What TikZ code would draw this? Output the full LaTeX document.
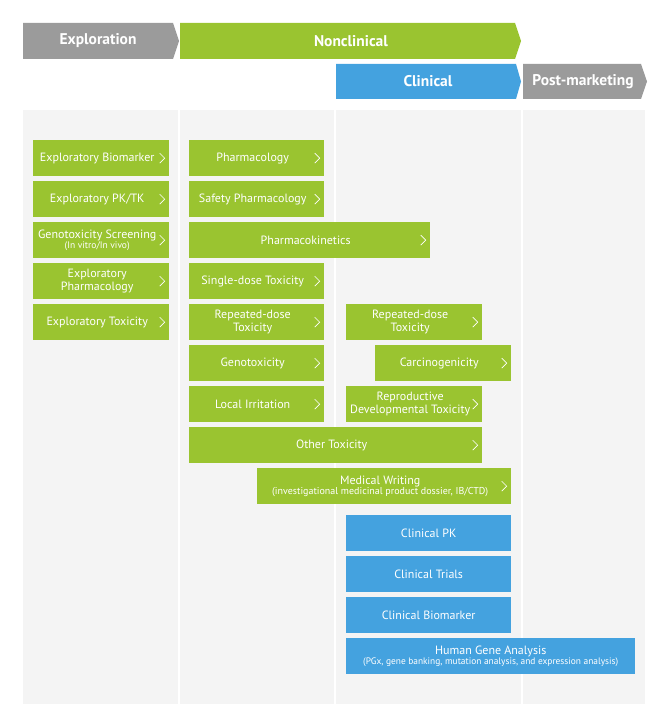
\documentclass[tikz,border=0pt]{standalone}
\usepackage{fontspec}
\setmainfont{PT Sans}
\definecolor{ncgreen}{HTML}{9AC430}
\definecolor{clblue}{HTML}{44A2DF}
\definecolor{phgray}{HTML}{9B9B9B}
\definecolor{panelbg}{HTML}{F4F4F4}
\tikzset{
  chev/.style={path picture={
    \draw[white, line width=0.7pt]
      ([xshift=-9.5pt, yshift=5pt]path picture bounding box.east)
      -- ([xshift=-4.5pt]path picture bounding box.east)
      -- ([xshift=-9.5pt, yshift=-5pt]path picture bounding box.east);}},
  gbox/.style={fill=ncgreen, anchor=north west, minimum height=36pt, inner sep=0pt, chev},
  bbox/.style={fill=clblue, anchor=north west, minimum height=36pt, inner sep=0pt},
  lbl/.style={white, align=center, inner sep=0pt, font=\fontsize{12}{12.5}\selectfont},
  head/.style={white, inner sep=0pt, font=\bfseries\fontsize{15.5}{17}\selectfont}
}
\begin{document}
\begin{tikzpicture}[x=1pt, y=-1pt]
    \useasboundingbox (0, 0) rectangle (670, 727);

    % phase arrows
    \fill[phgray] (23, 23) -- (173, 23) -- (179, 41) -- (173, 59) -- (23, 59) -- cycle;
    \fill[ncgreen] (180, 23) -- (515, 23) -- (521, 41) -- (515, 59) -- (180, 59) -- cycle;
    \fill[clblue] (336, 64) -- (516, 64) -- (521, 81.5) -- (516, 99) -- (336, 99) -- cycle;
    \fill[phgray] (523, 64) -- (641, 64) -- (647, 81.5) -- (641, 99) -- (523, 99) -- cycle;
    \node[head] (hexp) at (98, 41) {Exploration};
    \node[head] (hnon) at (351, 41) {Nonclinical};
    \node[head] (hcli) at (428, 81.5) {Clinical};
    \node[head] (hpost) at (583, 81.5) {Post-marketing};

    % columns
    \fill[panelbg] (23, 110) rectangle (178, 704);
    \fill[panelbg] (180, 110) rectangle (334, 704);
    \fill[panelbg] (336, 110) rectangle (521, 704);
    \fill[panelbg] (523, 110) rectangle (645, 704);

    % exploration
    \node[gbox, minimum width=136pt] (bio) at (33, 140) {};
    \node[gbox, minimum width=136pt] (pktk) at (33, 181) {};
    \node[gbox, minimum width=136pt] (gscr) at (33, 222) {};
    \node[gbox, minimum width=136pt] (ephar) at (33, 263) {};
    \node[gbox, minimum width=136pt] (etox) at (33, 304) {};
    \node[lbl] (bio-t) at ([xshift=-4pt]bio.center) {Exploratory Biomarker};
    \node[lbl] (pktk-t) at ([xshift=-4pt]pktk.center) {Exploratory PK/TK};
    \node[lbl] (gscr-t) at ([xshift=-4pt]gscr.center) {Genotoxicity Screening\\[-2pt]{\fontsize{9.5}{10}\selectfont(In vitro/In vivo)}};
    \node[lbl] (ephar-t) at ([xshift=-4pt]ephar.center) {Exploratory\\Pharmacology};
    \node[lbl] (etox-t) at ([xshift=-4pt]etox.center) {Exploratory Toxicity};

    % nonclinical
    \node[gbox, minimum width=135pt] (phar) at (189, 140) {};
    \node[gbox, minimum width=135pt] (sphar) at (189, 181) {};
    \node[gbox, minimum width=241pt] (pk) at (189, 222) {};
    \node[gbox, minimum width=135pt] (sdt) at (189, 263) {};
    \node[gbox, minimum width=135pt] (rdt) at (189, 304) {};
    \node[gbox, minimum width=135pt] (gtox) at (189, 345) {};
    \node[gbox, minimum width=135pt] (lirr) at (189, 386) {};
    \node[gbox, minimum width=293pt] (otox) at (189, 427) {};
    \node[gbox, minimum width=254pt] (mw) at (257, 468) {};
    \node[gbox, minimum width=136pt] (rdt2) at (346, 304) {};
    \node[gbox, minimum width=136pt] (carc) at (375, 345) {};
    \node[gbox, minimum width=136pt] (repro) at (346, 386) {};
    \node[lbl] (phar-t) at ([xshift=-4pt]phar.center) {Pharmacology};
    \node[lbl] (sphar-t) at ([xshift=-4pt]sphar.center) {Safety Pharmacology};
    \node[lbl] (pk-t) at ([xshift=-4pt]pk.center) {Pharmacokinetics};
    \node[lbl] (sdt-t) at ([xshift=-4pt]sdt.center) {Single-dose Toxicity};
    \node[lbl] (rdt-t) at ([xshift=-4pt]rdt.center) {Repeated-dose\\Toxicity};
    \node[lbl] (gtox-t) at ([xshift=-4pt]gtox.center) {Genotoxicity};
    \node[lbl] (lirr-t) at ([xshift=-4pt]lirr.center) {Local Irritation};
    \node[lbl] (otox-t) at ([xshift=-4pt]otox.center) {Other Toxicity};
    \node[lbl] (mw-t) at ([xshift=-4pt]mw.center) {Medical Writing\\[-2pt]{\fontsize{10}{10.5}\selectfont(investigational medicinal product dossier, IB/CTD)}};
    \node[lbl] (rdt2-t) at ([xshift=-4pt]rdt2.center) {Repeated-dose\\Toxicity};
    \node[lbl] (carc-t) at ([xshift=-4pt]carc.center) {Carcinogenicity};
    \node[lbl] (repro-t) at ([xshift=-4pt]repro.center) {Reproductive\\Developmental Toxicity};

    % clinical
    \node[bbox, minimum width=165pt] (cpk) at (346, 515) {};
    \node[bbox, minimum width=165pt] (ctr) at (346, 556) {};
    \node[bbox, minimum width=165pt] (cbio) at (346, 597) {};
    \node[bbox, minimum width=289pt] (hga) at (346, 638) {};
    \node[lbl] (cpk-t) at (cpk.center) {Clinical PK};
    \node[lbl] (ctr-t) at (ctr.center) {Clinical Trials};
    \node[lbl] (cbio-t) at (cbio.center) {Clinical Biomarker};
    \node[lbl] (hga-t) at (hga.center) {Human Gene Analysis\\[-2pt]{\fontsize{9.4}{10}\selectfont(PGx, gene banking, mutation analysis, and expression analysis)}};
\end{tikzpicture}
\end{document}
